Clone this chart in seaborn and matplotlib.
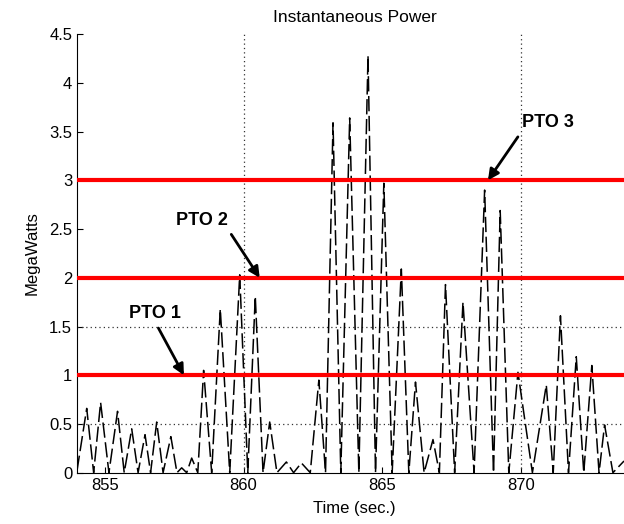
import numpy as np
import pandas as pd
import matplotlib as mpl
mpl.use("Agg")
import matplotlib.pyplot as plt
import seaborn as sns


# data: peaks and the zero troughs between them
time_s = [854.00, 854.35, 854.60, 854.85, 855.15, 855.46, 855.70, 855.97, 856.20,
          856.45, 856.65, 856.87, 857.10, 857.38, 857.60, 857.77, 857.95, 858.13,
          858.35, 858.56, 858.85, 859.16, 859.50, 859.86, 860.15, 860.42, 860.70,
          860.94, 861.20, 861.54, 861.80, 862.08, 862.40, 862.71, 862.95, 863.22,
          863.50, 863.82, 864.15, 864.48, 864.75, 865.05, 865.35, 865.68, 865.95,
          866.19, 866.50, 866.82, 867.05, 867.27, 867.60, 867.90, 868.30, 868.68,
          869.00, 869.24, 869.55, 869.88, 870.40, 870.90, 871.15, 871.41, 871.70,
          871.98, 872.25, 872.54, 872.80, 873.00, 873.30, 873.70]
power_mw = [0.02, 0.66, 0.00, 0.72, 0.00, 0.63, 0.00, 0.45, 0.00,
            0.39, 0.00, 0.52, 0.00, 0.37, 0.00, 0.05, 0.00, 0.15,
            0.00, 1.05, 0.00, 1.68, 0.00, 2.03, 0.00, 1.81, 0.00,
            0.52, 0.00, 0.11, 0.00, 0.10, 0.00, 0.95, 0.00, 3.59,
            0.00, 3.64, 0.00, 4.28, 0.00, 2.97, 0.00, 2.09, 0.00,
            0.93, 0.00, 0.34, 0.00, 1.93, 0.00, 1.75, 0.00, 2.90,
            0.00, 2.69, 0.00, 1.03, 0.00, 0.90, 0.00, 1.61, 0.00,
            1.19, 0.00, 1.10, 0.00, 0.49, 0.00, 0.12]

pto_levels = [1, 2, 3]
pto_labels = ["PTO 1", "PTO 2", "PTO 3"]
pto_tips_x = [857.85, 860.58, 868.80]
pto_text_x = [856.82, 858.49, 870.95]
pto_text_y = [1.63, 2.59, 3.59]
pto_relpos = [(0.5, 0.0), (1.0, 0.0), (0.0, 0.0)]

grid_x = [860, 870]
grid_y = [0.5, 1.5]
x_ticks = [855, 860, 865, 870]
y_ticks = [0, 0.5, 1, 1.5, 2, 2.5, 3, 3.5, 4, 4.5]

sns.set_style("ticks", {'text.color': 'black', 'axes.labelcolor': 'black',
                        'xtick.color': 'black', 'ytick.color': 'black',
                        'axes.edgecolor': 'black'})
plt.rcParams['font.family'] = ['Liberation Sans', 'DejaVu Sans']

df = pd.DataFrame({'time': time_s, 'power': power_mw})

fig = plt.figure(figsize=(6.24, 5.24), dpi=100)
ax = fig.add_axes([0.1234, 0.0979, 0.89, 0.837])

# only a few grid lines are visible in the original, drawn dotted
for gx in grid_x:
    ax.axvline(gx, color='#333333', ls=(0, (1, 2.5)), lw=0.9, zorder=1)
for gy in grid_y:
    ax.axhline(gy, color='#333333', ls=(0, (1, 2.5)), lw=0.9, zorder=1)

sns.lineplot(data=df, x='time', y='power', sort=False, estimator=None,
             color='black', lw=1.1, ax=ax, zorder=2)
ax.lines[-1].set_dashes((10, 3))

for lvl in pto_levels:
    ax.axhline(lvl, color='red', lw=3, zorder=3)

for lab, lvl, tx, ttx, tty, rp in zip(pto_labels, pto_levels, pto_tips_x,
                                      pto_text_x, pto_text_y, pto_relpos):
    ax.annotate(lab, xy=(tx, lvl), xytext=(ttx, tty), ha='center', va='center',
                fontsize=13, fontweight='bold', color='black', zorder=4,
                arrowprops=dict(arrowstyle='-|>', color='black', lw=2,
                                mutation_scale=16, relpos=rp, shrinkA=2, shrinkB=0))

ax.set_xlim(854, 874)
ax.set_ylim(0, 4.5)
ax.set_xticks(x_ticks)
ax.set_yticks(y_ticks)
ax.yaxis.set_major_formatter(mpl.ticker.FormatStrFormatter('%g'))
ax.tick_params(direction='in', length=4, labelsize=12, colors='black')
sns.despine(ax=ax)

ax.set_title("Instantaneous Power", fontsize=12.5, pad=9, color='black')
ax.set_xlabel("Time (sec.)", fontsize=12, labelpad=6, color='black')
ax.set_ylabel("MegaWatts", fontsize=12, labelpad=7, color='black')

fig.savefig("out.png", dpi=100)
